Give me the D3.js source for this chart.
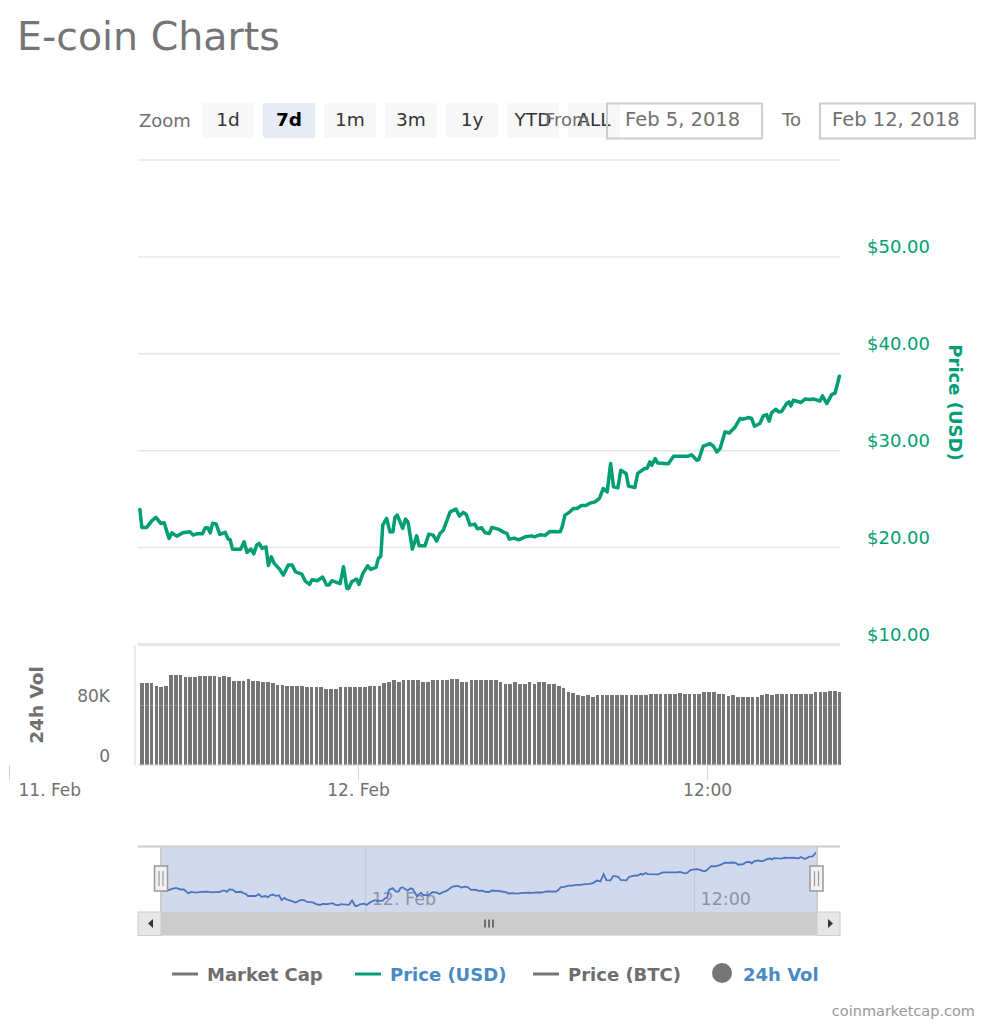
<!DOCTYPE html>
<html>
  <head>
    <meta charset="utf-8">
    <style>
      html, body { margin: 0; padding: 0; background: white; }
      svg { display: block; }
      text { font-family: "DejaVu Sans", sans-serif; }
    </style>
    <script src="https://d3js.org/d3.v7.min.js"></script>
  </head>
  <body>
    <script>
    // minutes relative to 12 Feb 2018 00:00
    var priceMinutes = [-450,-446,-436,-426,-417,-407,-400,-390,-384,-374,-362,-347,-340,-333,-321,-315,-310,-305,-300,-293,
      -285,-274,-268,-264,-259,-242,-235,-229,-221,-215,-209,-204,-198,-190,-185,-179,-173,-162,-154,-144,
      -136,-129,-116,-109,-100,-95,-84,-73,-65,-60,-54,-37,-30,-23,-19,-13,-3,2,10,20,
      26,37,42,47,51,59,66,72,76,81,92,98,103,112,121,126,138,146,155,162,
      169,176,190,202,209,217,223,231,241,246,255,262,271,276,289,301,307,312,322,331,
      345,358,364,375,386,396,417,421,427,437,444,452,461,470,477,489,498,506,514,521,
      527,536,542,553,558,571,577,591,596,602,606,613,618,640,651,681,688,699,703,712,
      726,733,740,747,757,766,778,788,795,805,812,818,829,836,843,848,853,862,868,874,
      884,889,893,898,914,922,932,939,953,958,967,977,984,993];
    var priceUsd = [23.89,22.03,22.03,22.68,23.06,22.44,22.51,20.90,21.47,21.13,21.47,21.58,21.24,21.37,21.37,21.99,21.99,21.47,22.47,22.40,
      21.31,21.52,20.82,20.79,19.79,19.79,20.55,19.45,19.79,19.31,20.21,20.38,19.87,20.03,18.11,19.00,18.32,17.73,17.11,18.14,
      18.14,17.45,17.22,16.49,16.15,16.63,16.53,16.91,16.08,16.08,16.53,16.22,17.97,15.74,15.74,16.42,16.70,16.15,17.29,18.07,
      17.70,17.91,18.84,19.07,22.27,22.96,21.55,21.58,23.06,23.30,21.93,22.89,22.61,19.79,21.16,20.13,20.13,21.34,21.24,20.62,
      21.41,21.75,23.64,23.92,23.20,23.58,23.40,22.27,22.37,21.89,21.99,21.47,21.41,22.03,21.86,21.52,21.41,20.82,20.93,20.75,
      21.06,21.16,21.06,21.27,21.21,21.62,21.58,22.09,23.30,23.64,23.99,23.99,24.30,24.30,24.51,24.67,25.02,26.05,25.70,28.63,
      26.22,26.11,27.94,27.60,26.29,26.15,27.60,28.11,28.11,28.79,28.45,29.14,28.69,28.59,29.38,29.38,29.52,28.97,29.04,30.41,
      30.69,30.41,29.82,30.18,31.89,31.78,32.40,33.27,33.20,33.37,33.27,32.47,32.75,33.54,33.68,32.99,33.85,34.23,33.95,34.02,
      34.81,34.98,34.57,35.15,34.92,35.29,35.23,35.29,35.08,35.60,34.81,35.74,35.88,37.63];

    // 24h volume in thousands, one bar every ten minutes
    var volumeK = [108.9,108.9,108.9,105.7,104.4,105.7,120,120,120,117.7,117.7,117.7,119,119,119,119,117.7,119,116.9,112.4,
      112.4,112.4,114.3,112.4,112.4,110.7,110.7,108.9,106.7,106.7,105.7,105.7,105.7,105.7,103.5,103.5,103.5,103.5,101.3,101.3,
      101.3,103.5,103.5,103.5,103.5,103.5,103.5,105.7,105.7,105.7,108.9,110.2,112.9,110.2,112.9,112.9,112.9,112.9,110.2,110.2,
      112.9,112.9,112.9,112.9,115,115,110.2,110.2,112.9,112.9,112.9,112.9,112.9,112.9,110.2,108.4,108.4,110.2,108.4,108.4,
      110.2,108.4,110.2,110.2,108.4,108.4,105.7,103,96.9,95.6,92.9,92,92.9,91,92.9,92.9,92.9,92.9,92.9,92.9,
      92.9,92.9,92.9,92.9,92.9,95,95,95,95,95,95,96,95,95,95,95,96.9,96.9,96.9,95,
      95,92,92.9,91,91,91,91,91,92.9,94.6,92.9,95,95,95,95,95,95,95,95,96.9,
      96.9,96.9,98.7,98.7,96.9];
    var barMinutes = d3.range(-446, 995, 10);

    var zoomButtons = ["1d", "7d", "1m", "3m", "1y", "YTD", "ALL"];
    var priceTicks = [10, 20, 30, 40, 50, 60];
    var volumeTicks = [0, 80];
    var timeTicks = [-720, 0, 720];
    var timeLabels = {"-720": "11. Feb", "0": "12. Feb", "720": "12:00"};
    var legendItems = [
      {name: "Market Cap", x: 172, color: "#757575", text: "#6e6e6e", type: "line"},
      {name: "Price (USD)", x: 355, color: "#009e73", text: "#4a8ac4", type: "line"},
      {name: "Price (BTC)", x: 533, color: "#757575", text: "#6e6e6e", type: "line"},
      {name: "24h Vol", x: 711, color: "#757575", text: "#4a8ac4", type: "dot"}
    ];

    var green = "#009e73";
    var axisGrey = "#707070";
    var width = 991, height = 1024;

    var svg = d3.select("body").append("svg")
      .attr("width", width)
      .attr("height", height);

    svg.append("text")
      .attr("x", 17).attr("y", 50)
      .attr("font-size", 39.5).attr("fill", "#757575")
      .text("E-coin Charts");

    // range selector
    svg.append("text").attr("x", 139).attr("y", 127)
      .attr("font-size", 18).attr("fill", axisGrey).text("Zoom");

    var btn = svg.append("g").selectAll("g")
      .data(zoomButtons)
      .enter().append("g")
      .attr("transform", (d, i) => "translate(" + (202 + i * 61) + ",103)");
    btn.append("rect")
      .attr("width", 52).attr("height", 35).attr("rx", 2)
      .attr("fill", d => d == "7d" ? "#e6ebf5" : "#f7f7f7");
    btn.append("text")
      .attr("x", 26).attr("y", 23)
      .attr("text-anchor", "middle")
      .attr("font-size", 18.5)
      .attr("font-weight", d => d == "7d" ? "bold" : "normal")
      .attr("fill", d => d == "7d" ? "#000000" : "#333333")
      .text(d => d);

    svg.append("text").attr("x", 545).attr("y", 126)
      .attr("font-size", 18).attr("fill", axisGrey).text("From");
    svg.append("text").attr("x", 782).attr("y", 126)
      .attr("font-size", 18).attr("fill", axisGrey).text("To");

    [[607, "Feb 5, 2018", 625], [820, "Feb 12, 2018", 832]].forEach(function(b) {
      svg.append("rect")
        .attr("x", b[0]).attr("y", 103.5).attr("width", 155).attr("height", 35)
        .attr("fill", "none").attr("stroke", "#cccccc").attr("stroke-width", 2);
      svg.append("text").attr("x", b[2]).attr("y", 126)
        .attr("font-size", 19.5).attr("fill", axisGrey).text(b[1]);
    });

    // scales
    var x = d3.scaleLinear().domain([-450, 993]).range([139.9, 839.4]);
    var yPrice = d3.scaleLinear().domain([10, 60]).range([644, 159.5]);
    var yVol = d3.scaleLinear().domain([0, 80]).range([765, 705]);

    // price grid + labels
    var priceAxis = svg.append("g")
      .attr("transform", "translate(840,0)")
      .call(d3.axisRight(yPrice).tickValues(priceTicks).tickSize(-702).tickPadding(27)
        .tickFormat(d => d == 60 ? "" : "$" + d3.format(".2f")(d)));
    priceAxis.select(".domain").remove();
    priceAxis.selectAll("line").attr("stroke", "#e6e6e6").attr("stroke-width", 1.5);
    priceAxis.selectAll("text")
      .attr("font-family", '"DejaVu Sans", sans-serif')
      .attr("font-size", 18).attr("fill", green).attr("dy", "-0.2em");
    priceAxis.selectAll(".tick")
      .filter(d => d == 10)
      .select("line").attr("stroke-width", 3);

    svg.append("text")
      .attr("transform", "translate(949,402.5) rotate(90)")
      .attr("text-anchor", "middle")
      .attr("font-size", 18).attr("font-weight", "bold").attr("fill", green)
      .text("Price (USD)");

    var line = d3.line()
      .x((d, i) => x(priceMinutes[i]))
      .y(d => yPrice(d));

    svg.append("path")
      .datum(priceUsd)
      .attr("d", line)
      .attr("fill", "none")
      .attr("stroke", green)
      .attr("stroke-width", 3.5)
      .attr("stroke-linejoin", "round")
      .attr("stroke-linecap", "round");

    // volume pane
    svg.append("line")
      .attr("x1", 135).attr("x2", 135).attr("y1", 645).attr("y2", 765)
      .attr("stroke", "#ccd6eb").attr("stroke-width", 1);

    svg.append("clipPath").attr("id", "volclip")
      .append("rect").attr("x", 138).attr("y", 645).attr("width", 703).attr("height", 121);

    svg.append("g").attr("clip-path", "url(#volclip)").selectAll("rect")
      .data(volumeK)
      .enter().append("rect")
      .attr("x", (d, i) => x(barMinutes[i]) - 1.85)
      .attr("width", 3.7)
      .attr("y", d => yVol(d))
      .attr("height", d => yVol(0) - yVol(d))
      .attr("fill", "#757575")
      .attr("shape-rendering", "crispEdges");

    var volAxis = svg.append("g")
      .attr("transform", "translate(138,0)")
      .call(d3.axisLeft(yVol).tickValues(volumeTicks).tickSize(-702).tickPadding(28)
        .tickFormat(d => d == 0 ? "0" : d + "K"));
    volAxis.select(".domain").remove();
    volAxis.selectAll("line").attr("stroke", "#e6e6e6").attr("stroke-opacity", 0.25);
    volAxis.selectAll("text")
      .attr("font-family", '"DejaVu Sans", sans-serif')
      .attr("font-size", 17).attr("fill", axisGrey).attr("dy", "-0.2em");

    svg.append("text")
      .attr("transform", "translate(43,705) rotate(-90)")
      .attr("text-anchor", "middle")
      .attr("font-size", 18.5).attr("font-weight", "bold").attr("fill", axisGrey)
      .text("24h Vol");

    // time axis
    var timeAxis = svg.append("g")
      .attr("transform", "translate(0,765)")
      .call(d3.axisBottom(x).tickValues(timeTicks).tickSize(15).tickPadding(4)
        .tickFormat(d => timeLabels[d]));
    timeAxis.select(".domain").remove();
    timeAxis.selectAll("line").attr("stroke", "#ccd6eb");
    timeAxis.selectAll("text")
      .attr("font-family", '"DejaVu Sans", sans-serif')
      .attr("font-size", 17).attr("fill", axisGrey);
    timeAxis.selectAll(".tick").filter(d => d == -720).select("text")
      .attr("text-anchor", "start").attr("x", 9);
    svg.append("line")
      .attr("x1", 138).attr("x2", 840).attr("y1", 765).attr("y2", 765)
      .attr("stroke", "#ccd6eb");

    // navigator
    var xNav = d3.scaleLinear().domain([-450, 0, 720, 993]).range([161, 365.7, 694.5, 816.5]);
    var yNav = d3.scaleLinear().domain([15.74, 37.63]).range([906, 852]);

    svg.append("line")
      .attr("x1", 138).attr("x2", 840).attr("y1", 846.5).attr("y2", 846.5)
      .attr("stroke", "#cccccc").attr("stroke-width", 2);

    svg.append("g").selectAll("line")
      .data([0, 720])
      .enter().append("line")
      .attr("x1", d => xNav(d)).attr("x2", d => xNav(d))
      .attr("y1", 847).attr("y2", 912)
      .attr("stroke", "#e6e6e6");

    svg.append("g").selectAll("text")
      .data([0, 720])
      .enter().append("text")
      .attr("x", d => xNav(d) + 6)
      .attr("y", 905)
      .attr("font-size", 17.5).attr("fill", "#999999")
      .text(d => timeLabels[d]);

    svg.append("path")
      .datum(priceUsd)
      .attr("d", d3.line().x((d, i) => xNav(priceMinutes[i])).y(d => yNav(d)))
      .attr("fill", "none")
      .attr("stroke", "#3f6cbf")
      .attr("stroke-width", 1.8);

    svg.append("rect")
      .attr("x", 161).attr("y", 847.5).attr("width", 656).attr("height", 64.5)
      .attr("fill", "#6685c2").attr("fill-opacity", 0.3);
    svg.append("path")
      .attr("d", "M161,847V912M817,847V912")
      .attr("stroke", "#cccccc").attr("stroke-width", 2);

    // scrollbar
    svg.append("rect").attr("x", 138).attr("y", 912).attr("width", 702).attr("height", 23.5).attr("fill", "#f2f2f2");
    svg.append("rect").attr("x", 161).attr("y", 912).attr("width", 656).attr("height", 23.5).attr("fill", "#cccccc");
    svg.append("rect").attr("x", 138).attr("y", 912).attr("width", 23).attr("height", 23.5).attr("fill", "#e6e6e6").attr("stroke", "#cccccc");
    svg.append("rect").attr("x", 817).attr("y", 912).attr("width", 23).attr("height", 23.5).attr("fill", "#e6e6e6").attr("stroke", "#cccccc");
    svg.append("path").attr("d", "M153,919v9l-5,-4.5zM828,919v9l5,-4.5z").attr("fill", "#333333");
    svg.append("path").attr("d", "M485,919.5v8M489,919.5v8M493,919.5v8").attr("stroke", "#333333").attr("stroke-width", 1.2);

    // navigator handles
    [161, 816.5].forEach(function(hx) {
      svg.append("rect")
        .attr("x", hx - 6.5).attr("y", 866).attr("width", 13).attr("height", 25)
        .attr("fill", "#f2f2f2").attr("stroke", "#999999").attr("stroke-width", 1.5);
      svg.append("path")
        .attr("d", "M" + (hx - 2) + ",871v15M" + (hx + 2) + ",871v15")
        .attr("stroke", "#999999").attr("stroke-width", 1.2);
    });

    // legend
    var leg = svg.append("g").selectAll("g")
      .data(legendItems)
      .enter().append("g")
      .attr("transform", d => "translate(" + d.x + ",974)");
    leg.filter(d => d.type == "line").append("line")
      .attr("x1", 0).attr("x2", 26)
      .attr("stroke", d => d.color).attr("stroke-width", 3);
    leg.filter(d => d.type == "dot").append("circle")
      .attr("cx", 11).attr("cy", -1).attr("r", 10)
      .attr("fill", d => d.color);
    leg.append("text")
      .attr("x", d => d.type == "dot" ? 32 : 35)
      .attr("y", 7)
      .attr("font-size", 18).attr("font-weight", "bold")
      .attr("fill", d => d.text)
      .text(d => d.name);

    svg.append("text")
      .attr("x", 975).attr("y", 1016)
      .attr("text-anchor", "end")
      .attr("font-size", 14.5).attr("fill", "#999999")
      .text("coinmarketcap.com");
    </script>
  </body>
</html>
